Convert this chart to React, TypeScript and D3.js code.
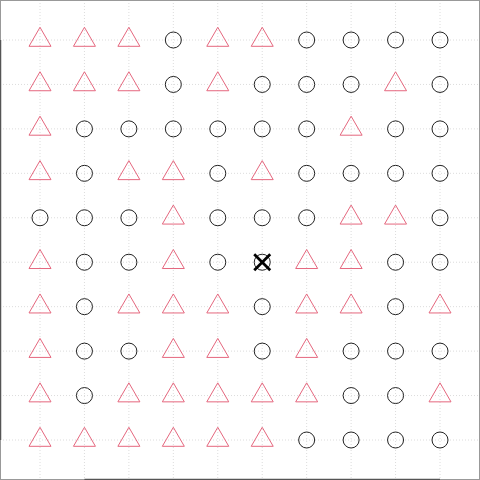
import React from 'react';
import * as d3 from 'd3';

// T = triangle, C = circle, X = circle with a cross; rows top to bottom
const rows = [
  'TTTCTTCCCC',
  'TTTCTCCCTC',
  'TCCCCCCTCC',
  'TCTTCTCCCC',
  'CCCTCCCTTC',
  'TCCTCXTTCC',
  'TCTTTCTTCT',
  'TCCTTCTCCC',
  'TCTTTTTCCT',
  'TTTTTTCCCC',
];
const cols = d3.range(1, 11);
const rowIdx = d3.range(1, 11);

const W = 480;
const H = 480;

const App = () => {
  const x = d3.scaleLinear().domain([0.1, 10.9]).range([0, W]);
  const y = d3.scaleLinear().domain([0.1, 10.9]).range([0, H]);

  const points = rows.flatMap((r, i) =>
    r.split('').map((s, j) => ({ col: cols[j], row: rowIdx[i], s }))
  );

  const tri = 'M0,-12.7L11,6.3L-11,6.3Z';

  return (
    <svg width={W} height={H} style={{ position: 'fixed', top: 0, left: 0, background: '#fff' }}>
      {/* grid */}
      {cols.map(c => (
        <line key={'gx' + c} x1={x(c)} x2={x(c)} y1={0} y2={H}
          stroke="#dcdcdc" strokeDasharray="1,2" />
      ))}
      {rowIdx.map(r => (
        <line key={'gy' + r} x1={0} x2={W} y1={y(r)} y2={y(r)}
          stroke="#dcdcdc" strokeDasharray="1,2" />
      ))}
      {/* box */}
      <rect x={0.5} y={0.5} width={W - 1} height={H - 1} fill="none" stroke="#999" />
      <line x1={0.5} x2={0.5} y1={y(1)} y2={y(10)} stroke="#555" strokeWidth={1.5} />
      <line x1={x(2)} x2={x(10)} y1={H - 0.5} y2={H - 0.5} stroke="#555" strokeWidth={1.5} />
      {/* marks */}
      {points.map((p, k) => (
        <g key={k} transform={`translate(${x(p.col)},${y(p.row)})`}>
          {p.s === 'T' ? (
            <path d={tri} fill="none" stroke="#E5677E" strokeWidth={1} />
          ) : (
            <circle r={8} fill="none" stroke="#222" strokeWidth={1} />
          )}
          {p.s === 'X' && (
            <g stroke="#000" strokeWidth={2.8}>
              <line x1={-8} y1={-8} x2={8} y2={8} />
              <line x1={-8} y1={8} x2={8} y2={-8} />
            </g>
          )}
        </g>
      ))}
    </svg>
  );
};

export default App;
